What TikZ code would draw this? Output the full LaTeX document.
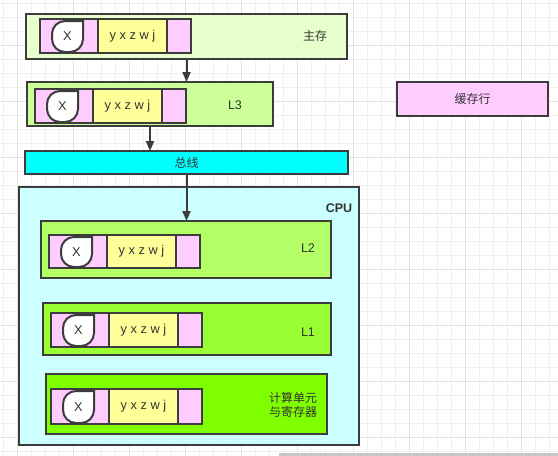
\documentclass[tikz,border=0pt]{standalone}
\usepackage{fontspec}
\setmainfont{Liberation Sans}
\newfontfamily\cjk{Noto Sans CJK SC}
\usetikzlibrary{arrows.meta,calc}
\definecolor{bd}{HTML}{3C3C3C}
\definecolor{tx}{HTML}{333333}
\definecolor{gthinc}{HTML}{F0F0F0}
\definecolor{gthickc}{HTML}{E2E2E2}
\definecolor{cMem}{HTML}{E6FFCC}
\definecolor{cLthree}{HTML}{CCFF99}
\definecolor{cBus}{HTML}{00FFFF}
\definecolor{cCpu}{HTML}{CCFFFF}
\definecolor{cLtwo}{HTML}{B3FF66}
\definecolor{cLone}{HTML}{99FF33}
\definecolor{cAlu}{HTML}{80FF00}
\definecolor{cPink}{HTML}{FFCCFF}
\definecolor{cYel}{HTML}{FFFF99}
\definecolor{cBar}{HTML}{C8C8C8}
\newcommand\myrow[4]{%
  \begin{scope}[shift={(#2,#3)}]
    \node[box, fill=cPink, minimum width=151pt, minimum height=#4pt] (#1p) at (0,0) {};
    \node[box, fill=cYel, minimum width=69pt, minimum height=#4pt, text=tx,
      font=\fontsize{12.8}{14}\selectfont] (#1y) at (58,0) {y x z w j};
    \draw[bd, line width=2pt, fill=white] (43,2) -- (25,2)
      .. controls (17.8,2) and (12,7.8) .. (12,15)
      -- (12,{#4-14})
      .. controls (12,{#4-6.8}) and (17.8,{#4-1}) .. (25,{#4-1})
      -- (30,{#4-1})
      .. controls (37.2,{#4-1}) and (43,{#4-6.8}) .. (43,{#4-14})
      -- cycle;
    \node[lbl, font=\fontsize{12.8}{14}\selectfont] (#1x) at (27.5,{(#4+1)/2}) {X};
  \end{scope}}
\begin{document}
\begin{tikzpicture}[x=1pt,y=-1pt,
  box/.style={draw=bd, line width=2pt, anchor=north west, inner sep=0pt, outer sep=0pt,
    font=\fontsize{12}{14}\selectfont},
  lbl/.style={text=tx, inner sep=0pt, font=\fontsize{12.5}{14}\selectfont},
  arr/.style={draw=bd, line width=2pt, -{Triangle[length=10pt,width=8pt]}},
  gthin/.style={draw=gthinc, line width=1pt},
  gthick/.style={draw=gthickc, line width=1pt}]
\useasboundingbox (0,0) rectangle (558,456);
\fill[white] (0,0) rectangle (558,456);
% grid
\foreach \i in {0,...,39} \draw[gthin] ({3.3+14*\i},0) -- ({3.3+14*\i},456);
\foreach \i in {0,...,32} \draw[gthin] (0,{3.3+14*\i}) -- (558,{3.3+14*\i});
\foreach \i in {0,...,9} \draw[gthick] ({17.3+56*\i},0) -- ({17.3+56*\i},456);
\foreach \i in {0,...,7} \draw[gthick] (0,{45.3+56*\i}) -- (558,{45.3+56*\i});
\fill[cBar] (279,453) rectangle (558,456);
% main boxes
\node[box, fill=cMem, minimum width=321pt, minimum height=45pt] (mem) at (26,14) {};
\node[box, fill=cLthree, minimum width=246pt, minimum height=44pt] (L3) at (27,82) {};
\node[box, fill=cBus, minimum width=323pt, minimum height=23pt, text=tx] (bus) at (25,151) {\cjk 总线};
\node[box, fill=cCpu, minimum width=340pt, minimum height=258pt] (cpu) at (19,187) {};
\node[box, fill=cLtwo, minimum width=290pt, minimum height=57pt] (L2) at (41,221) {};
\node[box, fill=cLone, minimum width=288pt, minimum height=52pt] (L1) at (43,303) {};
\node[box, fill=cAlu, minimum width=281pt, minimum height=60pt] (alu) at (46,374) {};
\node[box, fill=cPink, minimum width=151pt, minimum height=34pt, text=tx] (line) at (397,82) {\cjk 缓存行};
% rows
\myrow{rmem}{40}{19}{34}
\myrow{rLthree}{35}{89}{34}
\myrow{rLtwo}{49}{235}{33}
\myrow{rLone}{51}{313}{34}
\myrow{ralu}{51}{389}{35}
% labels
\node[lbl, font=\cjk\fontsize{12}{14}\selectfont] (tmem) at (315,36) {主存};
\node[lbl] (tLthree) at (235,105) {L3};
\node[lbl, font=\fontsize{12.5}{14}\selectfont\bfseries] (tcpu) at (339,208) {CPU};
\node[lbl] (tLtwo) at (308,248) {L2};
\node[lbl] (tLone) at (308,332) {L1};
\node[lbl, align=center, font=\cjk\fontsize{12}{14}\selectfont] (talu) at (293,405) {计算单元\\与寄存器};
% arrows
\draw[arr] (mem.south) -- (mem.south |- L3.north);
\draw[arr] (L3.south) -- (L3.south |- bus.north);
\draw[arr] (bus.south) -- (bus.south |- L2.north);
\end{tikzpicture}
\end{document}
